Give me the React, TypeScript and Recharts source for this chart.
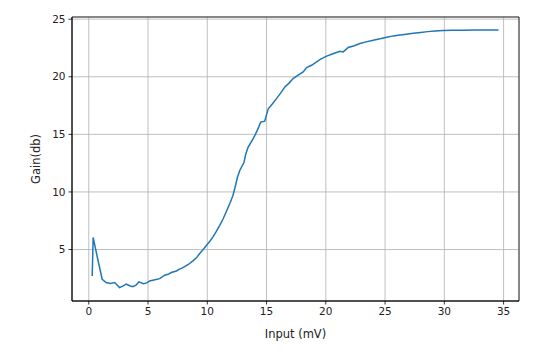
import {
  LineChart,
  Line,
  XAxis,
  YAxis,
  CartesianGrid,
  ReferenceArea,
} from "recharts";

// Input voltage (mV)
const inputMv = [
  0.29, 0.37, 0.75, 1.13, 1.47, 1.82, 2.18, 2.6, 2.9, 3.16, 3.45, 3.72, 3.98, 4.23, 4.62, 4.9,
  5.13, 5.5, 5.98, 6.4, 6.7, 6.96, 7.39, 7.65, 7.95, 8.4, 8.79, 9.1, 9.36, 9.65, 9.92, 10.2,
  10.48, 10.75, 11.05, 11.33, 11.61, 11.9, 12.15, 12.32, 12.55, 12.74, 13.1, 13.25, 13.44,
  13.86, 14.2, 14.51, 14.85, 15.13, 15.5, 15.84, 16.2, 16.54, 16.9, 17.24, 17.6, 18.09, 18.38,
  18.8, 19.22, 19.6, 20.07, 20.6, 21.19, 21.47, 21.89, 22.4, 22.88, 23.4, 24.0, 24.57, 25.14,
  25.7, 26.26, 26.8, 27.39, 28.0, 28.6, 29.2, 29.92, 30.7, 31.6, 32.5, 33.5, 34.57,
];

// Gain (dB) at each input value
const gainDb = [
  2.71, 6.05, 4.2, 2.42, 2.13, 2.06, 2.13, 1.69, 1.85, 1.99, 1.85, 1.78, 1.9, 2.19, 2.04, 2.1,
  2.27, 2.36, 2.47, 2.77, 2.85, 3.0, 3.14, 3.3, 3.43, 3.7, 4.02, 4.3, 4.65, 5.0, 5.35, 5.7,
  6.1, 6.55, 7.1, 7.65, 8.3, 9.0, 9.65, 10.3, 11.3, 11.86, 12.58, 13.3, 13.88,
  14.6, 15.3, 16.06, 16.15, 17.2, 17.65, 18.1, 18.6, 19.11, 19.45, 19.84, 20.1, 20.42, 20.8,
  21.0, 21.29, 21.55, 21.79, 22.0, 22.22, 22.16, 22.54, 22.7, 22.89, 23.03, 23.18, 23.3, 23.44,
  23.55, 23.62, 23.7, 23.78, 23.85, 23.92, 23.97, 24.02, 24.04, 24.05, 24.06, 24.07, 24.07,
];

const xTicks = [0, 5, 10, 15, 20, 25, 30, 35];
const yTicks = [5, 10, 15, 20, 25];
const xDomain = [-1.415, 36.3];
const yDomain = [0.53, 25.19];

const data = inputMv.map((x, i) => ({ input: x, gain: gainDb[i] }));

const tickStyle = { fill: "#222", fontSize: 10.5, fontFamily: "DejaVu Sans" };

export default function App() {
  return (
    <div style={{ position: "absolute", left: 0, top: 0, width: 544, height: 359, background: "#fff" }}>
      <LineChart
        width={544}
        height={359}
        data={data}
        margin={{ top: 17, right: 25, bottom: 0, left: 0 }}
        style={{ fontFamily: "DejaVu Sans" }}
      >
        <CartesianGrid stroke="#b0b0b0" strokeWidth={0.8} />
        <XAxis
          dataKey="input"
          type="number"
          domain={xDomain}
          ticks={xTicks}
          allowDataOverflow
          height={58}
          tickSize={3.5}
          tickMargin={3}
          tick={tickStyle}
          axisLine={{ stroke: "#000", strokeWidth: 0.8 }}
          tickLine={{ stroke: "#000", strokeWidth: 0.8 }}
          label={{ value: "Input (mV)", position: "insideBottom", offset: 21, fill: "#222", fontSize: 11.5 }}
        />
        <YAxis
          type="number"
          domain={yDomain}
          ticks={yTicks}
          allowDataOverflow
          width={72}
          tickSize={3.5}
          tickMargin={3}
          tick={tickStyle}
          axisLine={{ stroke: "#000", strokeWidth: 0.8 }}
          tickLine={{ stroke: "#000", strokeWidth: 0.8 }}
          label={{
            value: "Gain(db)",
            angle: -90,
            position: "insideLeft",
            offset: 36,
            fill: "#222",
            fontSize: 11.5,
            style: { textAnchor: "middle" },
          }}
        />
        {/* axes frame, like matplotlib spines */}
        <ReferenceArea
          x1={xDomain[0]}
          x2={xDomain[1]}
          y1={yDomain[0]}
          y2={yDomain[1]}
          fill="none"
          stroke="#000"
          strokeWidth={0.8}
        />
        <Line
          type="linear"
          dataKey="gain"
          stroke="#1f77b4"
          strokeWidth={1.5}
          dot={false}
          isAnimationActive={false}
        />
      </LineChart>
    </div>
  );
}
